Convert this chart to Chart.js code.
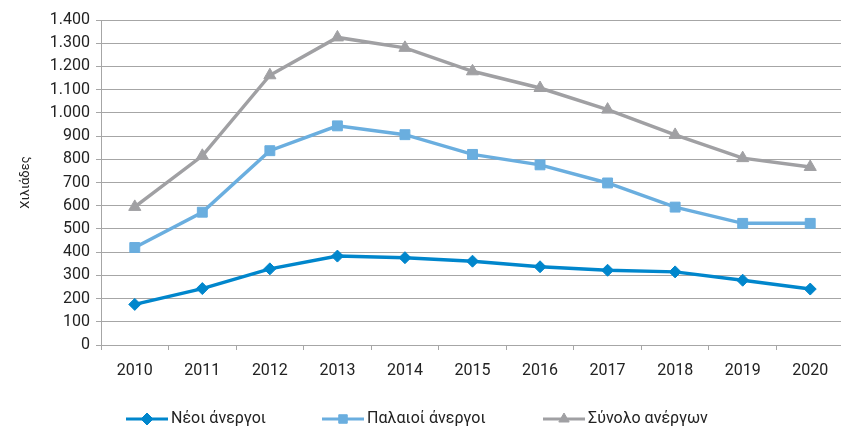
<!DOCTYPE html>
<html>
<head>
<meta charset="utf-8">
<script src="https://cdn.jsdelivr.net/npm/chart.js@4"></script>
<style>
html,body{margin:0;padding:0;background:#fff;overflow:hidden;}
#wrap{width:841px;height:427px;position:relative;overflow:hidden;}
</style>
</head>
<body>
<div id="wrap"><canvas id="c" width="852" height="427"></canvas></div>
<script>
const categories = ['2010','2011','2012','2013','2014','2015','2016','2017','2018','2019','2020'];
const neoi = [175, 243, 328, 383, 376, 361, 337, 322, 315, 279, 241];
const palaioi = [420, 572, 837, 944, 906, 821, 776, 698, 594, 524, 524];
const synolo = [595, 815, 1162, 1325, 1280, 1179, 1107, 1014, 905, 805, 767];
const seriesNames = ['Νέοι άνεργοι', 'Παλαιοί άνεργοι', 'Σύνολο ανέργων'];
const yTitle = 'Χιλιάδες';

const colors = ['#0086CC', '#6AAEDF', '#A0A0A3'];
const styles = ['rectRot', 'rect', 'triangle'];
const radii = [6, 7, 7];
const FONT = 'Roboto';

const legendPlugin = {
  id: 'customLegend',
  afterDraw(chart) {
    const ctx = chart.ctx;
    const items = [
      {x0: 126, x1: 168, tx: 171},
      {x0: 322, x1: 364, tx: 367},
      {x0: 543, x1: 585, tx: 588}
    ];
    const y = 419;
    ctx.save();
    items.forEach((it, i) => {
      ctx.strokeStyle = colors[i];
      ctx.lineWidth = 3;
      ctx.beginPath();
      ctx.moveTo(it.x0, y);
      ctx.lineTo(it.x1, y);
      ctx.stroke();
      ctx.fillStyle = colors[i];
      ctx.strokeStyle = colors[i];
      ctx.lineWidth = 1;
      Chart.helpers.drawPoint(ctx, {pointStyle: styles[i], radius: 6, rotation: 0, borderWidth: 1}, (it.x0 + it.x1) / 2, y);
      ctx.fillStyle = '#222';
      ctx.font = '16px ' + FONT;
      ctx.textBaseline = 'middle';
      ctx.textAlign = 'left';
      ctx.fillText(seriesNames[i], it.tx, y);
    });
    ctx.restore();
  }
};

const data = {
  labels: categories,
  datasets: [neoi, palaioi, synolo].map((vals, i) => ({
    label: seriesNames[i],
    data: vals,
    borderColor: colors[i],
    backgroundColor: colors[i],
    borderWidth: 3.5,
    pointStyle: styles[i],
    pointRadius: radii[i],
    pointHoverRadius: radii[i],
    pointBorderWidth: 1,
    pointBorderColor: colors[i],
    pointBackgroundColor: colors[i],
    tension: 0,
    order: 3 - i
  }))
};

new Chart(document.getElementById('c'), {
  type: 'line',
  data,
  plugins: [legendPlugin],
  options: {
    responsive: false,
    animation: false,
    devicePixelRatio: 1,
    layout: {padding: {top: 20, right: 0, left: 0, bottom: 0}},
    plugins: {legend: {display: false}, tooltip: {enabled: false}, title: {display: false}},
    scales: {
      x: {
        offset: true,
        afterFit(scale) { scale.height = 82; scale.paddingRight = 0; scale.paddingLeft = 0; },
        grid: {offset: true, drawOnChartArea: false, drawTicks: true, tickLength: 5, color: '#A6A6A6', lineWidth: 1},
        border: {display: true, color: '#A6A6A6', width: 1},
        ticks: {color: '#222', font: {family: FONT, size: 16}, padding: 11, maxRotation: 0}
      },
      y: {
        min: 0, max: 1400,
        afterFit(scale) { scale.width = 101; },
        grid: {color: '#A6A6A6', lineWidth: 1, tickLength: 5},
        border: {display: true, color: '#A6A6A6', width: 1},
        ticks: {
          stepSize: 100, color: '#222', padding: 6,
          font: {family: FONT, size: 16},
          callback: v => v.toLocaleString('de-DE')
        },
        title: {display: true, text: yTitle, color: '#222', font: {family: FONT, size: 13}, padding: {top: 18, bottom: 0}}
      }
    }
  }
});
</script>
</body>
</html>
